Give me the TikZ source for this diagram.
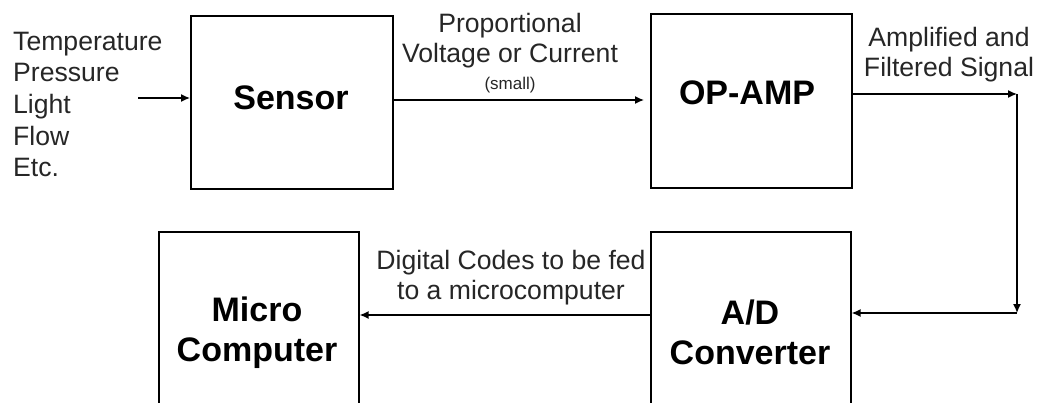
\documentclass[tikz,border=0pt]{standalone}
\usepackage{fontspec}
\setmainfont{Liberation Sans}
\usetikzlibrary{arrows.meta}
\begin{document}
\begin{tikzpicture}[x=1pt,y=-1pt,
  box/.style={draw,line width=1.6pt,inner sep=0pt,anchor=north west},
  big/.style={inner sep=0pt,align=center,font=\fontsize{34}{40}\selectfont\bfseries},
  lbl/.style={inner sep=0pt,font=\fontsize{26.6}{30}\selectfont,text=black!85},
  tiny/.style={inner sep=0pt,font=\fontsize{17}{20}\selectfont,text=black!85},
  arr/.style={line width=1.4pt,-{Latex[length=9pt,width=8pt]}}]
\useasboundingbox (0,0) rectangle (1038,403);
\clip (0,0) rectangle (1038,403);
% boxes
\node[box,minimum width=202pt,minimum height=173pt] (sensor) at (190,15) {};
\node[box,minimum width=201pt,minimum height=174pt] (opamp) at (650,13) {};
\node[box,minimum width=200pt,minimum height=220pt] (ad) at (650,231) {};
\node[box,minimum width=200pt,minimum height=220pt] (micro) at (158,231) {};
% box labels
\node[big] (tsensor) at (291,98) {Sensor};
\node[big] (topamp) at (747,93) {OP-AMP};
\node[big] (tad) at (750,332) {A/D\\Converter};
\node[big] (tmicro) at (257,333) {Micro\\Computer};
% input list
\node[lbl,align=left,anchor=west,font=\fontsize{26.6}{31.7}\selectfont] (inputs) at (13,104.5)
  {Temperature\\Pressure\\Light\\Flow\\Etc.};
% connector labels
\node[lbl,align=center] (lprop) at (510,41) {Proportional\\Voltage or Current};
\node[tiny] (lsmall) at (510,85) {(small)};
\node[lbl,align=center] (lamp) at (949,55) {Amplified and\\Filtered Signal};
\node[lbl,align=center] (ldig) at (511,278) {Digital Codes to be fed\\to a microcomputer};
% coordinates
\coordinate (inS) at (138,98);
\coordinate (y100) at (0,100);
\coordinate (c1) at (1017,94);
\coordinate (c2) at (1017,313);
\coordinate (y315) at (0,315);
% connectors
\draw[arr] (inS) -- (inS -| sensor.west);
\draw[arr,shorten >=6pt] (sensor.east |- y100) -- (opamp.west |- y100);
\draw[arr] (opamp.east |- c1) -- (c1);
\draw[arr] (c1) -- (c2);
\draw[arr] (c2) -- (ad.east |- c2);
\draw[arr] (ad.west |- y315) -- (micro.east |- y315);
\end{tikzpicture}
\end{document}
